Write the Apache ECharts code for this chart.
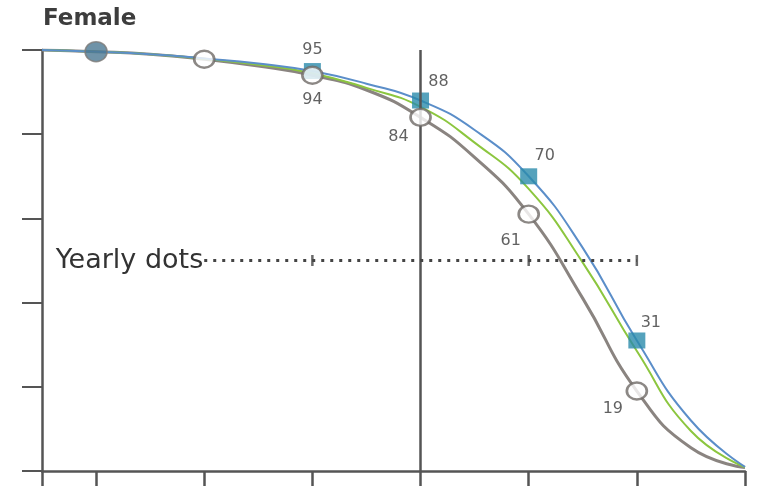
<!DOCTYPE html>
<html>
<head>
<meta charset="utf-8">
<script src="https://cdn.jsdelivr.net/npm/echarts@6/dist/echarts.min.js"></script>
<style>
  html, body { margin: 0; padding: 0; background: #fff; }
  #chart { width: 759px; height: 487px; }
</style>
</head>
<body>
<div id="chart"></div>
<script>
// years along the bottom axis, survival % on the left axis
var curveX = [-0.5, 0, 0.5, 1, 1.5, 2, 2.5, 3, 3.5, 4, 4.5, 5, 5.5, 6];
var greyCurve = [100, 99.6, 99, 97.8, 96.2, 94, 90.5, 84, 74.5, 61, 41, 19, 5.5, 0.8];
var greenCurve = [100, 99.6, 99, 97.9, 96.5, 94.5, 91, 86.5, 78, 67, 49.5, 28.5, 9.5, 0.9];
var blueCurve = [100, 99.6, 99, 98, 96.8, 95, 92, 88, 81, 70, 53, 31, 12, 1];

var startX = [0];
var startVal = [99.6];
var circleX = [1, 2, 3, 4, 5];
var circleVal = [97.8, 94, 84, 61, 19];
var circleText = ['', '94', '84', '61', '19'];
var squareX = [2, 3, 4, 5];
var squareVal = [95, 88, 70, 31];
var squareText = ['95', '88', '70', '31'];

var yearlyLevel = 50;
var yearlyFrom = 1;
var yearlyTo = 5;
var yearlyTicks = [2, 4, 5];
var nowYear = 3;

var xTicks = [-0.5, 0, 1, 2, 3, 4, 5, 6];

function pairs(xs, ys) {
  return xs.map(function (x, i) { return [x, ys[i]]; });
}

var labelFont = { fontFamily: 'DejaVu Sans', fontSize: 16, color: '#3a3a3a' };

// where each number sits relative to its mark
var squareOffsets = [[0, 0], [18, 2], [16, 1], [14, 3]];
var circleOffsets = [[0, 0], [0, 2], [-22, -3], [-18, 4], [-24, -5]];

var chart = echarts.init(document.getElementById('chart'));
var option = {
  animation: false,
  title: {
    text: 'Female',
    left: 38,
    top: 3,
    textStyle: { fontFamily: 'DejaVu Sans', fontSize: 23, fontWeight: 'bold', color: '#3d3d3d' }
  },
  grid: { left: 42, right: 14, top: 50, bottom: 16 },
  xAxis: {
    type: 'value',
    min: -0.5,
    max: 6,
    splitLine: { show: false },
    axisLine: { onZero: false, lineStyle: { color: '#555', width: 2.5 } },
    axisTick: { customValues: xTicks, length: 15, lineStyle: { color: '#555', width: 2.5 } },
    axisLabel: { show: false }
  },
  yAxis: {
    type: 'value',
    min: 0,
    max: 100,
    interval: 20,
    splitLine: { show: false },
    axisLine: { show: true, onZero: false, lineStyle: { color: '#555', width: 2.5 } },
    axisTick: { show: true, length: 20, lineStyle: { color: '#555', width: 2 } },
    axisLabel: { show: false }
  },
  series: [
    {
      // now-line and yearly dots
      type: 'scatter',
      z: 1,
      clip: false,
      symbol: 'rect',
      symbolSize: [2.5, 11],
      itemStyle: { color: '#444' },
      data: yearlyTicks.map(function (x) { return [x, yearlyLevel]; }),
      markLine: {
        silent: true,
        symbol: 'none',
        data: [
          [
            { coord: [nowYear, 100], lineStyle: { color: '#555', width: 2.5, type: 'solid' } },
            { coord: [nowYear, 0] }
          ],
          [
            {
              coord: [yearlyFrom, yearlyLevel],
              lineStyle: { color: '#444', width: 3, type: [3, 6] },
              label: {
                show: true,
                position: 'start',
                formatter: 'Yearly dots',
                fontFamily: 'DejaVu Sans',
                fontSize: 27,
                color: '#333',
                distance: 1
              }
            },
            { coord: [yearlyTo, yearlyLevel] }
          ]
        ],
        label: { show: false }
      }
    },
    {
      type: 'line', z: 2, smooth: 0.5, symbol: 'none',
      lineStyle: { color: '#8a8480', width: 3 },
      data: pairs(curveX, greyCurve)
    },
    {
      type: 'line', z: 2, smooth: 0.5, symbol: 'none',
      lineStyle: { color: '#8cc63f', width: 2 },
      data: pairs(curveX, greenCurve)
    },
    {
      type: 'line', z: 2, smooth: 0.5, symbol: 'none',
      lineStyle: { color: '#5b8ec9', width: 2 },
      data: pairs(curveX, blueCurve)
    },
    {
      type: 'scatter', z: 3,
      symbol: 'circle', symbolSize: [22, 20],
      itemStyle: { color: '#4b7892', borderColor: '#7d7a78', borderWidth: 1.5 },
      data: pairs(startX, startVal)
    },
    {
      type: 'scatter', z: 4,
      symbol: 'rect', symbolSize: [17, 16],
      itemStyle: { color: '#2b8bab' },
      data: squareX.map(function (x, i) {
        return {
          value: [x, squareVal[i]],
          label: Object.assign({
            show: true,
            position: 'top',
            offset: squareOffsets[i],
            formatter: squareText[i]
          }, labelFont)
        };
      })
    },
    {
      type: 'scatter', z: 5,
      symbol: 'circle', symbolSize: [20, 17],
      itemStyle: { color: '#fff', borderColor: '#6f6a66', borderWidth: 2.5 },
      data: circleX.map(function (x, i) {
        return {
          value: [x, circleVal[i]],
          label: Object.assign({
            show: circleText[i] !== '',
            position: 'bottom',
            offset: circleOffsets[i],
            formatter: circleText[i]
          }, labelFont)
        };
      })
    }
  ]
};
chart.setOption(option);
</script>
</body>
</html>
